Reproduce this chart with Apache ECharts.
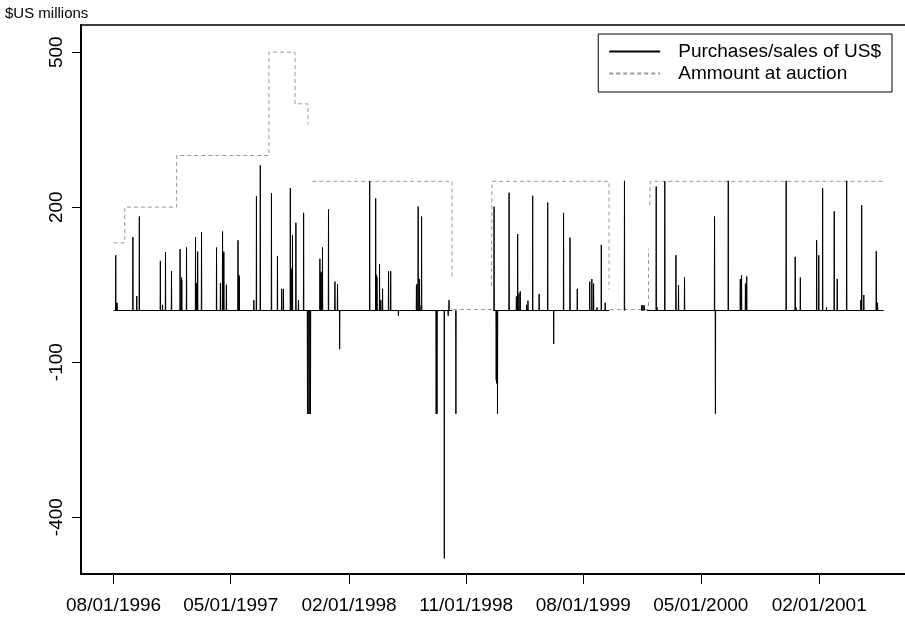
<!DOCTYPE html>
<html>
<head>
<meta charset="utf-8">
<script src="https://cdn.jsdelivr.net/npm/echarts@6.0.0/dist/echarts.min.js"></script>
<style>
  html, body { margin: 0; padding: 0; background: #fff; }
  #chart { width: 905px; height: 617px; }
</style>
</head>
<body>
<div id="chart"></div>
<script>
// daily central bank purchases (+) / sales (-) of US$, only the days with a trade
const flowDates = [
  '1996-08-06', '1996-08-08', '1996-08-09', '1996-09-15', '1996-09-24', '1996-09-30',
  '1996-11-18', '1996-11-23', '1996-11-30', '1996-12-14', '1997-01-03', '1997-01-06',
  '1997-01-07', '1997-01-18', '1997-02-08', '1997-02-10', '1997-02-11', '1997-02-13',
  '1997-02-22', '1997-03-29', '1997-04-07', '1997-04-12', '1997-04-14', '1997-04-15',
  '1997-04-21', '1997-05-18', '1997-05-20', '1997-05-21', '1997-06-24', '1997-06-30',
  '1997-07-09', '1997-08-04', '1997-08-18', '1997-08-28', '1997-09-01', '1997-09-17',
  '1997-09-18', '1997-09-19', '1997-09-22', '1997-09-30', '1997-10-06', '1997-10-18',
  '1997-10-27', '1997-10-28', '1997-10-31', '1997-11-03', '1997-11-25', '1997-11-27',
  '1997-11-28', '1997-12-01', '1997-12-15', '1997-12-30', '1998-01-05', '1998-01-10',
  '1998-03-21', '1998-04-04', '1998-04-06', '1998-04-07', '1998-04-13', '1998-04-16',
  '1998-04-20', '1998-05-04', '1998-05-09', '1998-05-27', '1998-07-08', '1998-07-09',
  '1998-07-12', '1998-07-15', '1998-07-19', '1998-07-20', '1998-08-23', '1998-08-25',
  '1998-09-11', '1998-09-20', '1998-09-22', '1998-10-08', '1999-01-05', '1999-01-10',
  '1999-01-11', '1999-01-13', '1999-02-09', '1999-02-26', '1999-03-01', '1999-03-04',
  '1999-03-07', '1999-03-22', '1999-03-25', '1999-04-05', '1999-04-20', '1999-05-10',
  '1999-05-24', '1999-06-16', '1999-07-01', '1999-07-18', '1999-08-16', '1999-08-21',
  '1999-08-25', '1999-09-02', '1999-09-12', '1999-09-21', '1999-11-05', '1999-12-15',
  '1999-12-18', '1999-12-21', '2000-01-18', '2000-01-20', '2000-02-07', '2000-03-04',
  '2000-03-10', '2000-03-24', '2000-06-02', '2000-06-04', '2000-07-04', '2000-08-01',
  '2000-08-04', '2000-08-13', '2000-08-16', '2000-11-16', '2000-12-07', '2000-12-09',
  '2000-12-19', '2001-01-26', '2001-01-31', '2001-02-09', '2001-02-18', '2001-03-08',
  '2001-03-15', '2001-04-06', '2001-05-09', '2001-05-11', '2001-05-16', '2001-06-14',
  '2001-06-17'
];
const flowValues = [
  107, 12, 15, 142, 28, 182,
  96, 11, 113, 76, 119, 64,
  60, 122, 142, 53, 50, 114,
  151, 122, 53, 153, 110, 114,
  50, 136, 69, 66, 20, 221,
  281, 227, 105, 42, 42, 237,
  78, 81, 146, 170, 20, 189,
  -200, -200, -200, -200, 100, 72,
  75, 122, 196, 56, 51, -75,
  250, 217, 69, 65, 90, 20,
  42, 76, 76, -10, 48, 51,
  201, 61, 10, 182, -200, -200,
  -480, -10, 20, -200, 201, -135,
  -141, -200, 228, 27, 148, 33,
  37, 11, 19, 222, 32, 209,
  -65, 189, 141, 42, 56, 61,
  52, 6, 127, 15, 251, 10,
  10, 10, 240, 6, 250, 107,
  49, 64, 182, -200, 251, 61,
  68, 52, 66, 251, 104, 6,
  64, 136, 107, 237, 6, 192,
  61, 251, 20, 204, 30, 115,
  15
];
const flowStart = '1996-08-01';
const flowEnd = '2001-07-01';
// stretches with no reported figure (the zero line is broken there)
const flowGaps = [
  ['1998-09-30', '1999-01-03'],
  ['1999-10-01', '1999-12-27']
];

// amount offered at auction, a step series; null = not reported
const auctionDates = [
  '1996-08-01', '1996-08-27', '1996-12-26', '1997-07-29', '1997-09-28', '1997-10-28', '1997-10-29',
  '1997-11-07', '1998-09-29', '1998-09-30',
  '1998-10-01', '1999-01-03', '1999-01-04',
  '1998-12-30', '1998-12-31', '1999-09-30', '1999-10-01',
  '1999-10-02', '1999-12-31', '2000-01-01',
  '2000-01-03', '2000-01-04', '2001-06-30'
];
const auctionValues = [
  131, 200, 300, 500, 400, 360, null,
  250, 60, null,
  2, 2, null,
  47, 250, 40, null,
  2, 119, null,
  204, 250, 250
];

const xTickDates = ['1996-08-01', '1997-05-01', '1998-02-01', '1998-11-01', '1999-08-01', '2000-05-01', '2001-02-01'];
const yTickValues = [-400, -100, 200, 500];
const xRange = ['1996-05-17', '2001-08-20'];
const yRange = [-510, 552.6];

const DAY = 86400000;
const ts = (s) => Date.parse(s);
const pad = (n) => (n < 10 ? '0' : '') + n;

// each trade day is a thin spike from zero
const spikeData = [];
flowDates.forEach((d, i) => {
  const t = ts(d);
  spikeData.push([t - DAY / 2, 0], [t, flowValues[i]], [t + DAY / 2, 0], [t, null]);
});

// the zero line itself
const baseData = [[ts(flowStart), 0]];
flowGaps.forEach((g) => {
  baseData.push([ts(g[0]), 0], [ts(g[0]), null], [ts(g[1]), 0]);
});
baseData.push([ts(flowEnd), 0]);

const auctionData = auctionDates.map((d, i) => [ts(d), auctionValues[i]]);

const FONT = '"Liberation Sans", Arial, sans-serif';
const flowName = 'Purchases/sales of US$';
const auctionName = 'Ammount at auction';

const chart = echarts.init(document.getElementById('chart'), null, { renderer: 'canvas' });

const option = {
  backgroundColor: '#ffffff',
  animation: false,
  title: {
    text: '$US millions',
    left: 5,
    top: 6,
    padding: 0,
    textStyle: { fontFamily: FONT, fontSize: 15, fontWeight: 'normal', color: '#000' }
  },
  legend: {
    orient: 'vertical',
    right: 13,
    top: 34,
    padding: [8, 11, 9, 10],
    itemGap: 3,
    itemWidth: 51,
    itemHeight: 14,
    borderColor: '#000',
    borderWidth: 1,
    borderRadius: 0,
    selectedMode: false,
    // line only, no marker in the key
    itemStyle: { opacity: 0 },
    data: [flowName, auctionName],
    textStyle: {
      fontFamily: FONT,
      fontSize: 19,
      lineHeight: 19,
      color: '#000',
      padding: [0, 0, 0, 13]
    }
  },
  grid: {
    left: 81,
    right: 0,
    top: 25,
    bottom: 43
  },
  xAxis: [
    {
      type: 'value',
      min: ts(xRange[0]),
      max: ts(xRange[1]),
      axisLine: { show: true, onZero: false, lineStyle: { color: '#000', width: 2 } },
      axisTick: { show: true, length: 10, customValues: xTickDates.map(ts), lineStyle: { color: '#000', width: 1 } },
      axisLabel: {
        show: true,
        customValues: xTickDates.map(ts),
        margin: 22,
        fontFamily: FONT,
        fontSize: 19,
        color: '#000',
        formatter: (v) => {
          const d = new Date(v);
          return pad(d.getUTCMonth() + 1) + '/' + pad(d.getUTCDate()) + '/' + d.getUTCFullYear();
        }
      },
      splitLine: { show: false }
    },
    {
      type: 'value',
      position: 'top',
      min: ts(xRange[0]),
      max: ts(xRange[1]),
      axisLine: { show: true, onZero: false, lineStyle: { color: '#000', width: 1.5 } },
      axisTick: { show: false },
      axisLabel: { show: false },
      splitLine: { show: false }
    }
  ],
  yAxis: {
    type: 'value',
    min: yRange[0],
    max: yRange[1],
    axisLine: { show: true, onZero: false, lineStyle: { color: '#000', width: 2 } },
    axisTick: { show: true, length: 9, customValues: yTickValues, lineStyle: { color: '#000', width: 1 } },
    axisLabel: {
      show: true,
      customValues: yTickValues,
      rotate: 90,
      margin: 15,
      fontFamily: FONT,
      fontSize: 19,
      color: '#000'
    },
    splitLine: { show: false }
  },
  series: [
    {
      name: auctionName,
      type: 'line',
      step: 'end',
      data: auctionData,
      symbol: 'none',
      silent: true,
      connectNulls: false,
      lineStyle: { color: '#999', width: 1, type: [4, 3] },
      itemStyle: { color: '#999' },
      z: 2
    },
    {
      name: flowName,
      type: 'line',
      data: baseData,
      symbol: 'none',
      silent: true,
      connectNulls: false,
      lineStyle: { color: '#000', width: 1 },
      itemStyle: { color: '#000' },
      z: 3
    },
    {
      name: flowName,
      type: 'line',
      data: spikeData,
      symbol: 'none',
      silent: true,
      connectNulls: false,
      lineStyle: { color: '#000', width: 1 },
      itemStyle: { color: '#000' },
      z: 3
    }
  ]
};

chart.setOption(option);
window.addEventListener('resize', () => chart.resize());
</script>
</body>
</html>
